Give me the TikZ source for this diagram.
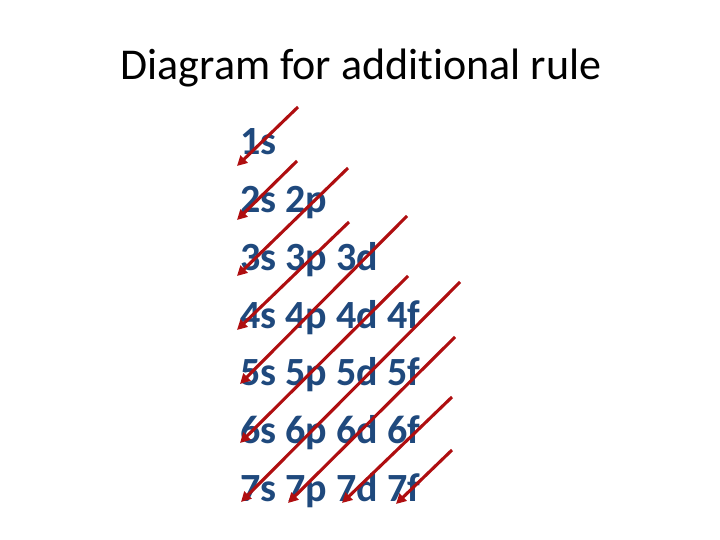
\documentclass[tikz,border=0pt]{standalone}
\usepackage{fontspec}
\setmainfont{Carlito}[Ligatures=NoCommon]
\usetikzlibrary{arrows.meta}
\definecolor{txtblue}{HTML}{1F497D}
\definecolor{arrred}{RGB}{175,14,16}
\tikzset{
  rowtext/.style={anchor=base west, inner sep=0pt, text=txtblue, font=\fontsize{40}{48}\selectfont\bfseries},
  titletext/.style={anchor=base, inner sep=0pt, text=black, font=\fontsize{44}{52}\selectfont},
  diagarrow/.style={draw=arrred, line width=3.1pt, -{Triangle[length=10pt,width=10pt]}}
}
\begin{document}
\begin{tikzpicture}[x=1pt,y=-1pt]
\useasboundingbox (0,0) rectangle (720,540);
\node[titletext] (title) at (361,80) {Diagram for additional rule};
\node[rowtext] (r1) at (240,154.3) {1s};
\node[rowtext] (r2) at (240,212.2) {2s 2p};
\node[rowtext] (r3) at (240,270.1) {3s 3p 3d};
\node[rowtext] (r4) at (240,328.0) {4s 4p 4d 4f};
\node[rowtext] (r5) at (240,385.9) {5s 5p 5d 5f};
\node[rowtext] (r6) at (240,443.8) {6s 6p 6d 6f};
\node[rowtext] (r7) at (240,501.7) {7s 7p 7d 7f};
% arrow start and end points
\coordinate (a1s) at (298,107);  \coordinate (a1e) at (237,166);
\coordinate (a2s) at (297,161);  \coordinate (a2e) at (237,220);
\coordinate (a3s) at (348,168);  \coordinate (a3e) at (237,276);
\coordinate (a4s) at (349,222);  \coordinate (a4e) at (237,330);
\coordinate (a5s) at (407,216);  \coordinate (a5e) at (240,384);
\coordinate (a6s) at (408,276);  \coordinate (a6e) at (240,443);
\coordinate (a7s) at (460,282);  \coordinate (a7e) at (241,502);
\coordinate (a8s) at (455,337);  \coordinate (a8e) at (288,503);
\coordinate (a9s) at (452,397);  \coordinate (a9e) at (342,503);
\coordinate (a10s) at (452,450); \coordinate (a10e) at (396,504);
\foreach \i in {1,...,10}{
  \draw[diagarrow] (a\i s) -- (a\i e);
}
\end{tikzpicture}
\end{document}
